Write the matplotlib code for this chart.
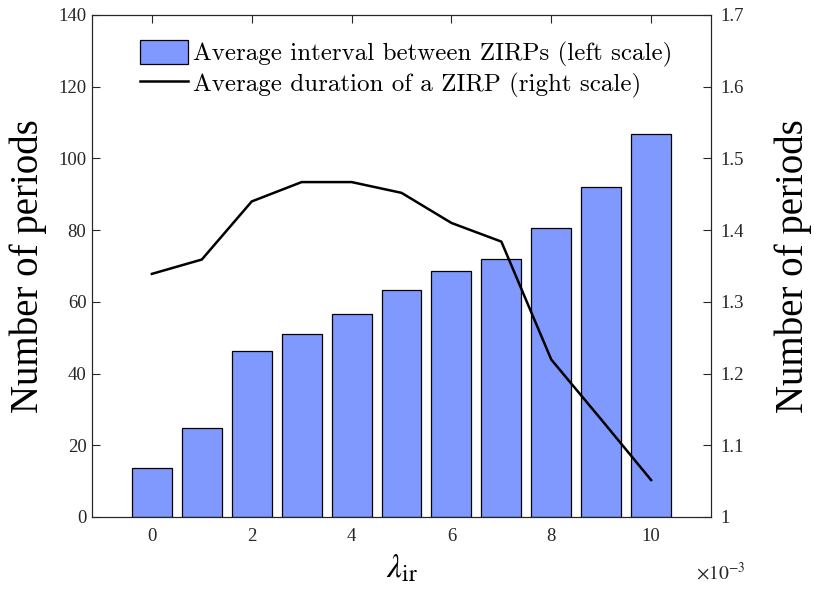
import matplotlib
matplotlib.use('Agg')
import matplotlib.pyplot as plt
from matplotlib.ticker import FuncFormatter, FormatStrFormatter
import numpy as np

# lambda_ir values and the two series
lam = [0.000, 0.001, 0.002, 0.003, 0.004, 0.005, 0.006, 0.007, 0.008, 0.009, 0.010]
interval = [13.6, 24.9, 46.4, 50.9, 56.5, 63.4, 68.5, 71.9, 80.7, 92.1, 106.8]
duration = [1.339, 1.359, 1.440, 1.467, 1.467, 1.452, 1.410, 1.384, 1.2195, 1.136, 1.0515]

leg_labels = ['Average interval between ZIRPs (left scale)',
              'Average duration of a ZIRP (right scale)']

plt.rcParams['font.family'] = 'Liberation Serif'
plt.rcParams['mathtext.fontset'] = 'stix'

fig = plt.figure(figsize=(8.14, 5.92), dpi=100)
ax = fig.add_axes([0.113, 0.1267, 0.7605, 0.848])
ax2 = ax.twinx()

axcol = '#262626'
bars = ax.bar(lam, interval, width=0.0008, color='#7f99ff', edgecolor='black', linewidth=0.9, zorder=2)
line, = ax2.plot(lam, duration, color='black', linewidth=1.8)

ax.set_xlim(-0.0012, 0.0112)
ax.set_ylim(0, 140)
ax.set_yticks(np.arange(0, 141, 20))
ax.set_xticks(np.arange(0, 0.0101, 0.002))
# x tick labels shown in units of 1e-3, with the multiplier written under the axis end
ax.xaxis.set_major_formatter(FuncFormatter(lambda v, p: '%g' % round(v * 1000, 6)))
ax.text(0.975, -0.11, r'$\times10^{\mathrm{-3}}$', transform=ax.transAxes,
        ha='left', va='center', fontsize=14, color=axcol)

ax2.set_ylim(1, 1.7)
ax2.set_yticks(np.arange(1.0, 1.71, 0.1))
ax2.yaxis.set_major_formatter(FormatStrFormatter('%g'))

for a in (ax, ax2):
    a.tick_params(direction='in', labelsize=13.5, colors=axcol, labelcolor=axcol, length=6, width=0.8)
    for s in a.spines.values():
        s.set_color(axcol)
        s.set_linewidth(0.8)
ax.tick_params(axis='x', top=True, pad=8)
ax.tick_params(axis='y', pad=4)
ax2.tick_params(axis='y', pad=7)

ax.set_ylabel('Number of periods', fontsize=28, labelpad=8)
ax2.set_ylabel('Number of periods', fontsize=28, labelpad=22)
ax.set_xlabel(r'$\lambda_{\rm ir}$', fontsize=24, labelpad=6)

leg = ax.legend([bars, line], leg_labels, loc='upper left', bbox_to_anchor=(0.061, 0.97),
                frameon=False, prop={'family': 'cmr10', 'size': 18},
                handlelength=1.95, handleheight=1.1, handletextpad=0.2, labelspacing=0.15,
                borderaxespad=0)

fig.savefig('out.png', dpi=100)
